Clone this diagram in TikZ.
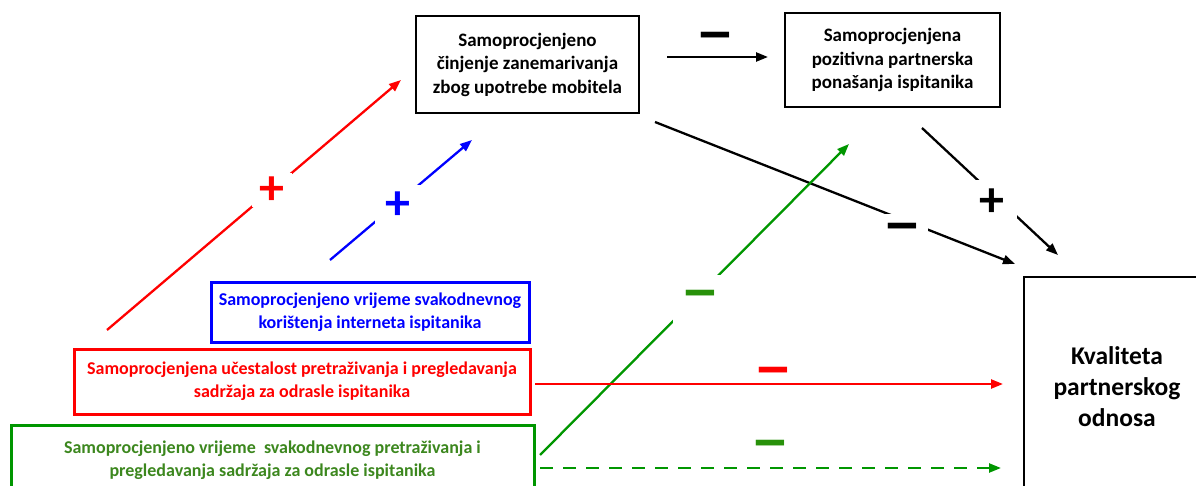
\documentclass[tikz,border=0pt]{standalone}
\usepackage{fontspec}
\setmainfont{Carlito}
\usetikzlibrary{arrows.meta}
\definecolor{pRed}{RGB}{255,0,0}
\definecolor{pBlue}{RGB}{0,0,255}
\definecolor{pGreen}{RGB}{0,150,0}
\definecolor{pGreenText}{RGB}{60,135,30}
\definecolor{pGreenSign}{RGB}{40,145,10}
\newcommand{\minussign}{\scalebox{1.6}[1.3]{–}}
\tikzset{
  boxtext/.style={align=center, font=\bfseries\fontsize{19}{23.5}\selectfont, inner sep=0pt},
  blackbox/.style={boxtext, draw=black, line width=1.5pt},
  colbox/.style={boxtext, font=\bfseries\fontsize{18}{23}\selectfont, line width=3pt},
  link/.style={line width=2.3pt, -{Triangle[length=12pt,width=9pt]}},
  sign/.style={font=\bfseries\fontsize{50}{50}\selectfont, inner sep=0pt},
  gapsign/.style={sign, fill=white},
}
\begin{document}
\begin{tikzpicture}[x=1pt,y=-1pt]
\useasboundingbox (0,0) rectangle (1196,486);
\clip (0,0) rectangle (1196,486);

% boxes
\node[blackbox, minimum width=223, minimum height=97] (neglect) at (527.5,64.5)
  {Samoprocjenjeno\\činjenje zanemarivanja\\zbog upotrebe mobitela};
\node[blackbox, minimum width=215, minimum height=94] (positive) at (892.5,60)
  {Samoprocjenjena\\pozitivna partnerska\\ponašanja ispitanika};
\node[colbox, draw=pBlue, text=pBlue, minimum width=318, minimum height=60] (internet) at (370,312)
  {Samoprocjenjeno vrijeme svakodnevnog\\korištenja interneta ispitanika};
\node[colbox, draw=pRed, text=pRed, minimum width=456, minimum height=65] (freq) at (302,381.5)
  {Samoprocjenjena učestalost pretraživanja i pregledavanja\\sadržaja za odrasle ispitanika};
\node[colbox, draw=pGreen, text=pGreenText, minimum width=523, minimum height=70] (time) at (272.5,460)
  {Samoprocjenjeno vrijeme \ svakodnevnog pretraživanja i\\pregledavanja sadržaja za odrasle ispitanika};
\node[draw=black, line width=2.5pt, align=center, inner sep=0pt,
      font=\bfseries\fontsize{25.5}{31}\selectfont,
      minimum width=186, minimum height=220] (quality) at (1117,387)
  {Kvaliteta\\partnerskog\\odnosa};

% free ends of the connectors
\coordinate (a1) at (107,330);  \coordinate (b1) at (401,80);
\coordinate (a2) at (330,260);  \coordinate (b2) at (472,140);
\coordinate (a3) at (667,57);   \coordinate (b3) at (768,57);
\coordinate (a4) at (655,122);  \coordinate (b4) at (1015,264);
\coordinate (a5) at (922,128);  \coordinate (b5) at (1058,255);
\coordinate (a6) at (540,455);  \coordinate (b6) at (849,144);
\coordinate (a7) at (535,384);  \coordinate (b7) at (1003,384);
\coordinate (a8) at (540,468);  \coordinate (b8) at (1001,468);

% connectors
\draw[link, pRed]   (a1) -- (b1);
\draw[link, pBlue]  (a2) -- (b2);
\draw[link, black]  (a3) -- (b3);
\draw[link, black]  (a4) -- (b4);
\draw[link, black]  (a5) -- (b5);
\draw[link, pGreen] (a6) -- (b6);
\draw[link, pRed]   (a7) -- (b7);
\draw[link, pGreen, dash pattern=on 13pt off 10pt] (a8) -- (b8);

% signs of the effects
\node[gapsign, text=pRed, minimum width=40, minimum height=34] (s1) at (272,190.5) {+};
\node[gapsign, text=pBlue, minimum width=47, minimum height=40] (s2) at (398,205.5) {+};
\node[sign, text=black] (s3) at (715,43) {\minussign};
\node[gapsign, text=black, minimum width=51, minimum height=40] (s4) at (902,234) {\minussign};
\node[gapsign, text=black, minimum width=49, minimum height=44] (s5) at (992,202.5) {+};
\node[gapsign, text=pGreenSign, minimum width=54, minimum height=52] (s6) at (700,301) {\minussign};
\node[sign, text=pRed] (s7) at (773,378) {\minussign};
\node[sign, text=pGreenSign] (s8) at (770,451) {\minussign};
\end{tikzpicture}
\end{document}
